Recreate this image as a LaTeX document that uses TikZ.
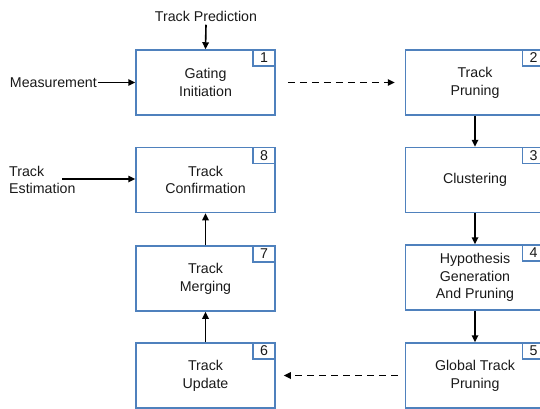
\documentclass[tikz,border=0pt]{standalone}
\usepackage{fontspec}
\setmainfont{Liberation Sans}
\usetikzlibrary{arrows.meta}
\definecolor{boxblue}{HTML}{4F81BD}
\begin{document}
\begin{tikzpicture}[x=1pt,y=-1pt,
  every node/.style={font=\fontsize{14.2}{17.8}\selectfont, text=black!90},
  procbox/.style={draw=boxblue, line width=1.5pt, minimum width=139pt, minimum height=65pt, align=center, inner sep=0pt},
  numbox/.style={draw=boxblue, line width=1.5pt, minimum width=22pt, minimum height=16pt, inner sep=0pt, anchor=north east},
  arr/.style={line width=1.6pt, -{Triangle[length=7pt,width=6.5pt]}},
  darr/.style={arr, dash pattern=on 7pt off 5pt}
]
\useasboundingbox (0,0) rectangle (540,409);
\begin{scope}
\clip (0,0) rectangle (540,409);
% left column
\node[procbox] (b1) at (205.5,82.5) {Gating\\Initiation};
\node[procbox] (b8) at (205.5,180) {Track\\Confirmation};
\node[procbox] (b7) at (205.5,278.5) {Track\\Merging};
\node[procbox] (b6) at (205.5,375.5) {Track\\Update};
% right column
\node[procbox] (b2) at (475,82.5) {Track\\Pruning};
\node[procbox] (b3) at (475,180) {Clustering};
\node[procbox] (b4) at (475,277.5) {Hypothesis\\Generation\\And Pruning};
\node[procbox] (b5) at (475,375.5) {Global Track\\Pruning};
% number boxes
\node[numbox] (n1) at (b1.north east) {1};
\node[numbox] (n2) at (b2.north east) {2};
\node[numbox] (n3) at (b3.north east) {3};
\node[numbox] (n4) at (b4.north east) {4};
\node[numbox] (n5) at (b5.north east) {5};
\node[numbox] (n6) at (b6.north east) {6};
\node[numbox] (n7) at (b7.north east) {7};
\node[numbox] (n8) at (b8.north east) {8};
\end{scope}
% inputs
\node (pred) at (206,16) {Track Prediction};
\node[anchor=east, inner sep=1pt] (meas) at (98,82.5) {Measurement};
\node[anchor=west, align=left, inner sep=0pt] (est) at (9,180) {Track\\Estimation};
\coordinate (estStart) at (62,179);
% connectors
\draw[arr] (pred.south) -- (b1.north);
\draw[arr] (meas.east) -- (b1.west);
\draw[arr] (estStart) -- (estStart -| b8.west);
\draw[darr, shorten <=12pt, shorten >=10pt] (b1.east) -- (b2.west);
\draw[arr] (b2.south) -- (b3.north);
\draw[arr] (b3.south) -- (b4.north);
\draw[arr] (b4.south) -- (b5.north);
\draw[darr, shorten <=7pt, shorten >=8pt] (b5.west) -- (b6.east);
\draw[arr] (b6.north) -- (b7.south);
\draw[arr] (b7.north) -- (b8.south);
\end{tikzpicture}
\end{document}
